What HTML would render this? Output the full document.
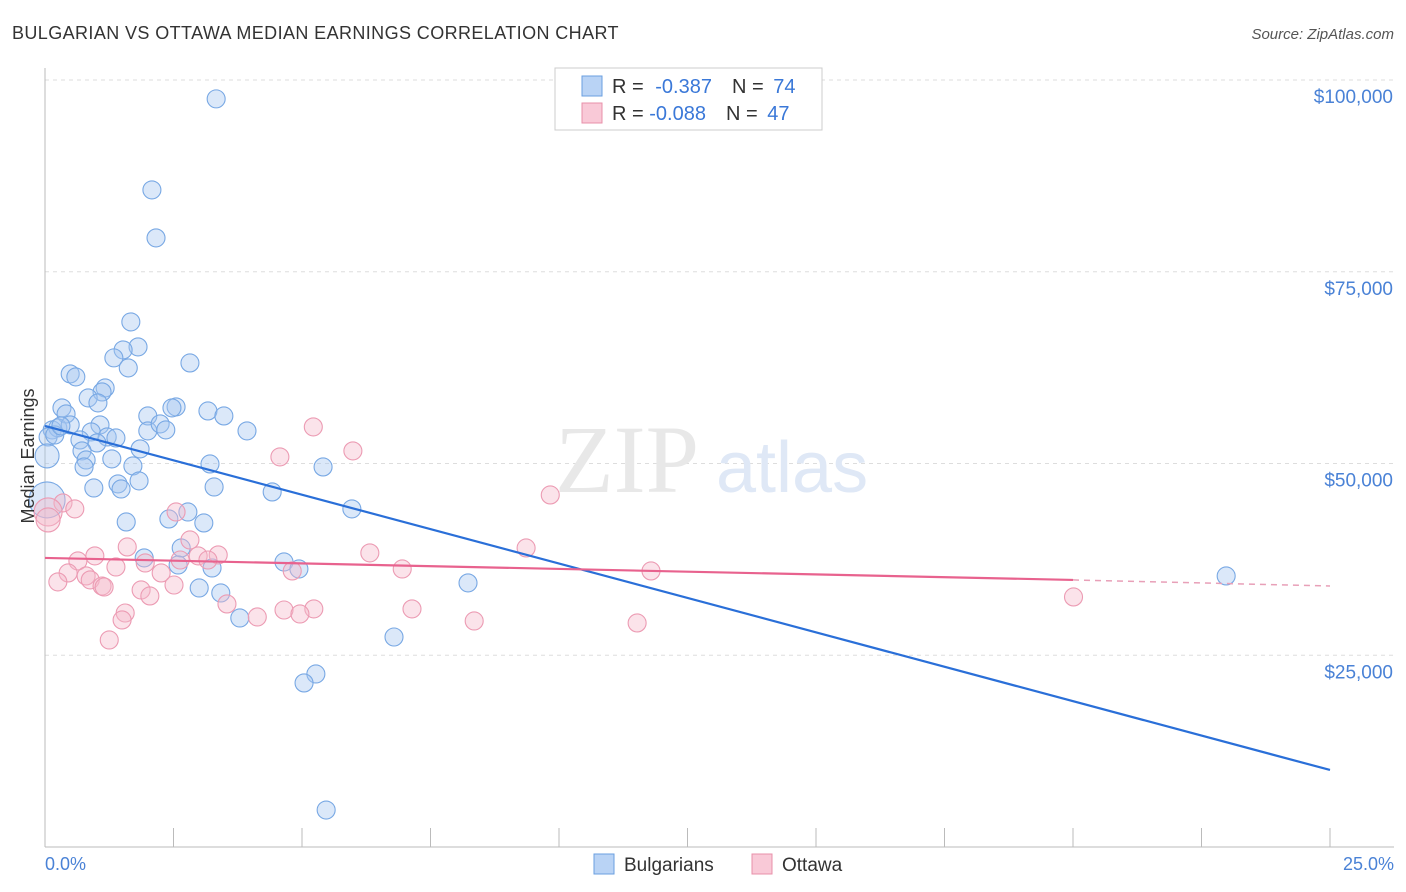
<!DOCTYPE html>
<html><head><meta charset="utf-8"><style>
body{margin:0;background:#fff;font-family:"Liberation Sans",sans-serif;}
svg{display:block}
</style></head><body>
<svg id="chart" width="1406" height="892">
<text x="12" y="39" font-size="18" fill="#333" letter-spacing="0.4">BULGARIAN VS OTTAWA MEDIAN EARNINGS CORRELATION CHART</text>
<text x="1394" y="39" font-size="15" fill="#555" font-style="italic" text-anchor="end">Source: ZipAtlas.com</text>
<g id="grid"></g>
<text x="555" y="492" font-size="96" font-family="Liberation Serif,serif" fill="#e8e8e8">ZIP</text>
<text x="716" y="492" font-size="72" fill="#dfe8f6">atlas</text>
<g id="marks"></g>
<text x="34" y="456" font-size="18" fill="#333" text-anchor="middle" transform="rotate(-90 34 456)">Median Earnings</text>
<text x="45" y="870" font-size="18" fill="#4a82d6">0.0%</text>
<text x="1394" y="870" font-size="18" fill="#4a82d6" text-anchor="end">25.0%</text>
<g>
<rect x="555" y="68" width="267" height="62" fill="#fff" stroke="#ccc"/>
<rect x="582" y="76" width="20" height="20" fill="#b9d3f5" stroke="#6a9fe0"/>
<rect x="582" y="103" width="20" height="20" fill="#f9c9d7" stroke="#e890aa"/>
<text x="612" y="93" font-size="20" fill="#333">R = <tspan fill="#3a78d8" dx="6">-0.387</tspan><tspan dx="20">N = </tspan><tspan fill="#3a78d8" dx="4">74</tspan></text>
<text x="612" y="120" font-size="20" fill="#333">R = <tspan fill="#3a78d8">-0.088</tspan><tspan dx="20">N = </tspan><tspan fill="#3a78d8" dx="4">47</tspan></text>
</g>
<g>
<rect x="594" y="854" width="20" height="20" fill="#b9d3f5" stroke="#6a9fe0"/>
<text x="624" y="871" font-size="19" fill="#333">Bulgarians</text>
<rect x="752" y="854" width="20" height="20" fill="#f9c9d7" stroke="#e890aa"/>
<text x="782" y="871" font-size="19" fill="#333">Ottawa</text>
</g>
</svg>
<script>
const yTicks=[25000,50000,75000,100000];
const yTickLabels=["$25,000","$50,000","$75,000","$100,000"];
const blueX=[3.33,2.08,2.16,1.67,1.81,1.52,1.34,1.62,0.49,0.60,1.17,1.11,0.84,1.03,0.33,0.41,2.55,2.47,2.00,3.17,3.48,2.82,0.14,0.25,0.49,0.06,0.19,1.07,0.90,0.68,1.21,1.38,2.00,2.24,2.35,3.93,1.01,0.72,1.85,0.80,1.30,0.76,1.71,3.21,5.41,1.42,1.83,0.95,1.48,3.29,4.42,5.97,1.58,2.41,2.78,3.09,2.65,1.93,2.59,3.25,4.65,4.94,3.00,3.42,8.23,22.98,3.79,6.79,5.27,5.04,5.47,0.31,0.04,0.04];
const blueY=[97540,85670,79410,68460,65200,64810,63770,62460,61680,61290,59850,59330,58550,57900,57250,56460,57380,57250,56200,56850,56200,63110,54380,54640,55030,53460,53720,55030,54120,53070,53460,53330,54250,55160,54380,54250,52680,51640,51900,50460,50600,49550,49680,49940,49550,47340,47730,46810,46680,46940,46290,44080,42380,42770,43680,42250,38990,37690,36770,36380,37160,36250,33770,33120,34430,35340,29860,27380,22560,21390,4820,54900,50990,45250];
const blueR=[9,9,9,9,9,9,9,9,9,9,9,9,9,9,9,9,9,9,9,9,9,9,9,9,9,9,9,9,9,9,9,9,9,9,9,9,9,9,9,9,9,9,9,9,9,9,9,9,9,9,9,9,9,9,9,9,9,9,9,9,9,9,9,9,9,9,9,9,9,9,9,9,12,18];
const pinkX=[5.22,5.99,4.57,9.83,0.35,0.58,0.06,0.06,2.55,2.82,1.60,0.97,0.64,2.63,2.98,3.37,3.17,9.36,6.32,6.95,4.81,1.95,0.45,0.80,1.38,2.26,0.25,0.88,1.11,1.15,1.87,2.51,2.04,3.54,4.13,4.65,5.23,4.96,7.14,1.56,1.50,8.35,11.52,11.79,1.25,20.01];
const pinkY=[54770,51640,50860,45900,44860,44080,43680,42640,43680,40030,39120,37950,37290,37420,37950,38080,37420,38990,38340,36250,35990,37030,35730,35340,36510,35730,34560,34820,34030,33900,33510,34160,32730,31690,29990,30900,31040,30380,31040,30510,29600,29470,29210,35990,26990,32600];
const pinkR=[9,9,9,9,9,9,14,12,9,9,9,9,9,9,9,9,9,9,9,9,9,9,9,9,9,9,9,9,9,9,9,9,9,9,9,9,9,9,9,9,9,9,9,9,9,9];
const blueLineX=[0,25], blueLineY=[54900,10040];
const pinkLineX=[0,20,25], pinkLineY=[37690,34820,34030];

const sx=v=>45+v/25*1285;
const sy=v=>847-v/100000*767;
const NS="http://www.w3.org/2000/svg";
const grid=document.getElementById('grid'), marks=document.getElementById('marks');
function mk(tag,attrs,parent){const e=document.createElementNS(NS,tag);for(const k in attrs)e.setAttribute(k,attrs[k]);parent.appendChild(e);return e;}
yTicks.forEach((t,i)=>{
  const l=mk('line',{x1:45,x2:1394,y1:sy(t),y2:sy(t),stroke:'#ddd','stroke-dasharray':'4,4'},grid);
  
  
  const tx=mk('text',{x:1393,y:sy(t)+23,'font-size':19,fill:'#4a82d6','text-anchor':'end'},grid);
  tx.textContent=yTickLabels[i];
  
  
});
const ax=mk('line',{x1:45,x2:45,y1:68,y2:847,stroke:'#bbb'},grid);


const bx=mk('line',{x1:45,x2:1394,y1:847,y2:847,stroke:'#bbb'},grid);


for(let i=0;i<=10;i++){
  const t=mk('line',{x1:sx(i*2.5),x2:sx(i*2.5),y1:828,y2:847,stroke:'#bbb'},grid);
  
  
}
blueX.forEach((x,i)=>{
  const c=mk('circle',{cx:sx(x),cy:sy(blueY[i]),r:blueR[i],fill:'rgba(165,198,240,0.4)',stroke:'#78a8e4','stroke-width':1.1},marks);
  
  
});
pinkX.forEach((x,i)=>{
  const c=mk('circle',{cx:sx(x),cy:sy(pinkY[i]),r:pinkR[i],fill:'rgba(246,185,203,0.4)',stroke:'#ec9bb3','stroke-width':1.1},marks);
  
  
});
const bl=mk('line',{x1:sx(blueLineX[0]),y1:sy(blueLineY[0]),x2:sx(blueLineX[1]),y2:sy(blueLineY[1]),stroke:'#2a6fd8','stroke-width':2.2},marks);


const pl=mk('line',{x1:sx(pinkLineX[0]),y1:sy(pinkLineY[0]),x2:sx(pinkLineX[1]),y2:sy(pinkLineY[1]),stroke:'#e8628e','stroke-width':2.2},marks);


const pd=mk('line',{x1:sx(pinkLineX[1]),y1:sy(pinkLineY[1]),x2:sx(pinkLineX[2]),y2:sy(pinkLineY[2]),stroke:'#e8a0b8','stroke-width':1.5,'stroke-dasharray':'6,5'},marks);


</script>
</body></html>
